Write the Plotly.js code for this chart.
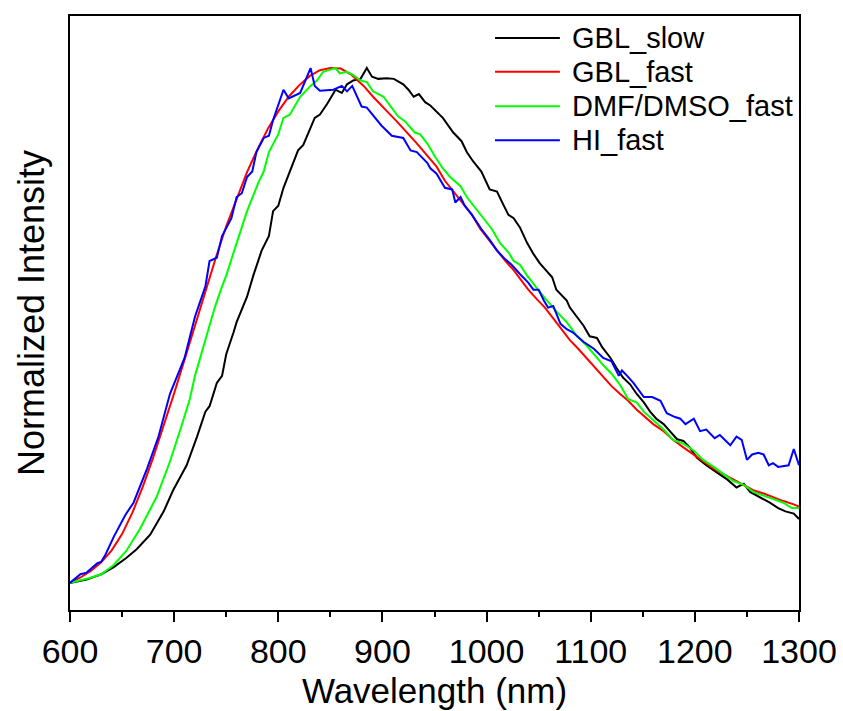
<!DOCTYPE html>
<html>
<head>
<meta charset="utf-8">
<script src="https://cdn.plot.ly/plotly-3.0.1.min.js"></script>
<style>html,body{margin:0;padding:0;background:#fff;}#chart{width:843px;height:711px;}</style>
</head>
<body>
<div id="chart"></div>
<script>
// Series names
var seriesNames = ["GBL_slow", "GBL_fast", "DMF/DMSO_fast", "HI_fast"];

// GBL_slow (black)
var wlSlow = [600,616,630,642,654,664,677,690,699,712,722,730,734,741,746,750,757,760,770,776,784,791,795,800,805,811,819,824,831,835,840,847,855,861,866,872,879,885,890,896,904,911,920,925,930,935,941,946,
  958,968,976,981,987,995,1003,1010,1015,1021,1026,1032,1039,1045,1051,1058,1063,1067,1072,1077,1080,1087,1093,1099,1106,1111,1119,1125,1131,1138,1144,1151,1157,1163,1170,1176,1183,1189,1195,1202,1211,1221,1231,1240,1247,1253,1263,1272,1280,1287,1295,1300];
var valSlow = [0.050,0.056,0.066,0.079,0.096,0.112,0.139,0.182,0.221,0.267,0.320,0.366,0.376,0.419,0.432,0.472,0.512,0.531,0.578,0.617,0.663,0.690,0.736,0.746,0.779,0.809,0.848,0.858,0.888,0.908,0.914,0.934,0.960,0.954,0.970,0.977,0.980,1.000,0.984,0.980,0.981,0.980,0.970,0.960,0.947,0.952,0.937,0.931,
  0.908,0.881,0.865,0.845,0.828,0.809,0.776,0.772,0.752,0.729,0.723,0.706,0.677,0.657,0.640,0.624,0.614,0.591,0.581,0.571,0.558,0.541,0.525,0.505,0.502,0.485,0.465,0.446,0.429,0.416,0.399,0.383,0.366,0.353,0.343,0.330,0.315,0.312,0.300,0.281,0.267,0.254,0.241,0.226,0.233,0.218,0.208,0.198,0.188,0.182,0.178,0.168];

// GBL_fast (red)
var wlFast = [600,610,620,630,640,650,660,670,680,690,700,710,720,730,740,750,760,770,780,790,800,810,820,830,840,850,860,870,882,891,904,914,933,
  946,952,960,968,978,986,994,1002,1010,1018,1026,1032,1040,1048,1056,1064,1072,1080,1088,1096,1104,1112,1120,1128,1136,1144,1152,1160,1170,1179,1189,1199,1208,1218,1227,1237,1247,1256,1266,1275,1285,1295,1300];
var valFast = [0.050,0.060,0.072,0.088,0.110,0.140,0.180,0.228,0.282,0.340,0.400,0.462,0.525,0.590,0.650,0.708,0.760,0.808,0.850,0.888,0.920,0.947,0.968,0.985,0.996,1.000,0.999,0.988,0.967,0.947,0.921,0.901,0.861,
  0.832,0.818,0.792,0.772,0.749,0.729,0.703,0.683,0.663,0.644,0.627,0.611,0.591,0.574,0.558,0.538,0.518,0.498,0.482,0.465,0.449,0.432,0.413,0.399,0.386,0.370,0.356,0.343,0.330,0.314,0.300,0.287,0.274,0.261,0.251,0.241,0.231,0.221,0.215,0.208,0.201,0.195,0.191];

// DMF/DMSO_fast (green)
var wlDmf = [600,619,630,642,654,667,683,696,706,715,720,731,739,746,750,760,770,781,786,791,795,800,805,811,821,831,837,843,850,855,859,866,872,879,885,891,901,915,922,931,936,943,951,
  958,965,975,981,989,997,1005,1013,1021,1026,1032,1039,1045,1051,1058,1067,1077,1087,1096,1106,1112,1120,1128,1136,1144,1151,1160,1170,1179,1189,1199,1208,1218,1227,1237,1247,1256,1266,1275,1285,1293,1300];
var valDmf = [0.050,0.059,0.066,0.083,0.109,0.149,0.208,0.274,0.333,0.389,0.432,0.505,0.558,0.597,0.617,0.677,0.736,0.789,0.809,0.845,0.861,0.878,0.908,0.914,0.947,0.967,0.977,0.993,0.997,1.000,0.990,0.993,0.987,0.977,0.974,0.957,0.947,0.911,0.901,0.881,0.878,0.861,0.835,
  0.815,0.799,0.782,0.762,0.743,0.723,0.703,0.677,0.660,0.644,0.637,0.617,0.601,0.587,0.571,0.551,0.531,0.505,0.488,0.465,0.452,0.436,0.416,0.389,0.383,0.366,0.350,0.333,0.314,0.307,0.294,0.277,0.264,0.251,0.238,0.231,0.218,0.211,0.205,0.198,0.188,0.188];

// HI_fast (blue)
var wlHI = [600,610,616,626,630,634,642,653,661,674,685,696,710,720,730,734,741,746,755,760,765,770,775,779,786,791,795,805,810,821,831,835,840,853,861,866,871,880,885,899,909,920,927,933,943,946,952,
  960,967,970,975,979,986,995,1003,1010,1018,1024,1032,1040,1045,1050,1055,1059,1064,1071,1077,1083,1093,1103,1112,1120,1127,1130,1135,1141,1151,1159,1167,1173,1181,1186,1191,1199,1205,1211,1219,1224,1234,1240,1245,1250,1255,1261,1266,1271,1275,1280,1290,1295,1300];
var valHI = [0.050,0.066,0.069,0.086,0.089,0.102,0.135,0.175,0.198,0.261,0.320,0.399,0.465,0.541,0.597,0.644,0.650,0.690,0.723,0.762,0.769,0.799,0.809,0.845,0.871,0.875,0.904,0.960,0.944,0.954,1.000,0.967,0.958,0.960,0.967,0.957,0.967,0.929,0.927,0.894,0.875,0.871,0.848,0.845,0.825,0.815,0.805,
  0.779,0.776,0.752,0.762,0.746,0.729,0.703,0.683,0.663,0.647,0.637,0.620,0.604,0.591,0.591,0.571,0.558,0.561,0.528,0.518,0.512,0.495,0.482,0.465,0.459,0.432,0.442,0.432,0.419,0.393,0.393,0.386,0.363,0.356,0.353,0.343,0.353,0.330,0.333,0.317,0.323,0.304,0.320,0.314,0.277,0.287,0.290,0.287,0.267,0.271,0.264,0.267,0.297,0.267];

var seriesColors = ["#000000", "#ff0000", "#00ff00", "#0000ff"];
var xs = [wlSlow, wlFast, wlDmf, wlHI];
var ys = [valSlow, valFast, valDmf, valHI];

var FONT = "'Liberation Sans', Arial, sans-serif";

var traces = seriesNames.map(function(n, i) {
  return {
    x: xs[i], y: ys[i], name: n, type: "scatter", mode: "lines",
    line: {color: seriesColors[i], width: 2},
    showlegend: false
  };
});

// custom legend (long line samples, no box)
var legX0 = 0.583, legX1 = 0.672, legTX = 0.686;
var legY = [0.963, 0.906, 0.848, 0.791];
var shapes = [], annotations = [];
seriesNames.forEach(function(n, i) {
  shapes.push({type: "line", xref: "paper", yref: "paper", x0: legX0, x1: legX1, y0: legY[i], y1: legY[i],
    line: {color: seriesColors[i], width: 2}});
  annotations.push({xref: "paper", yref: "paper", x: legTX, y: legY[i], xanchor: "left", yanchor: "middle",
    text: n, showarrow: false, font: {family: FONT, size: 29, color: "#000"}});
});

var layout = {
  width: 843, height: 711,
  margin: {l: 70, r: 44, t: 16, b: 101},
  paper_bgcolor: "#fff", plot_bgcolor: "#fff",
  font: {family: FONT, color: "#000"},
  showlegend: false,
  xaxis: {
    range: [600, 1300], dtick: 100, tick0: 600,
    ticks: "outside", ticklen: 10, tickwidth: 2, tickcolor: "#000",
    minor: {dtick: 50, ticks: "outside", ticklen: 5, tickwidth: 2, tickcolor: "#000"},
    showline: true, linewidth: 2, linecolor: "#000", mirror: true,
    showgrid: false, zeroline: false,
    tickfont: {family: FONT, size: 34, color: "#000"},
    title: {text: "Wavelength (nm)", font: {family: FONT, size: 35, color: "#000"}, standoff: 10},
    automargin: false
  },
  yaxis: {
    range: [0, 1.096],
    showticklabels: false, ticks: "",
    showline: true, linewidth: 2, linecolor: "#000", mirror: true,
    showgrid: false, zeroline: false,
    title: {text: "Normalized Intensity", font: {family: FONT, size: 36, color: "#000"}, standoff: 12},
    automargin: false
  },
  shapes: shapes,
  annotations: annotations
};

Plotly.newPlot("chart", traces, layout, {displayModeBar: false, staticPlot: true});
</script>
</body>
</html>
